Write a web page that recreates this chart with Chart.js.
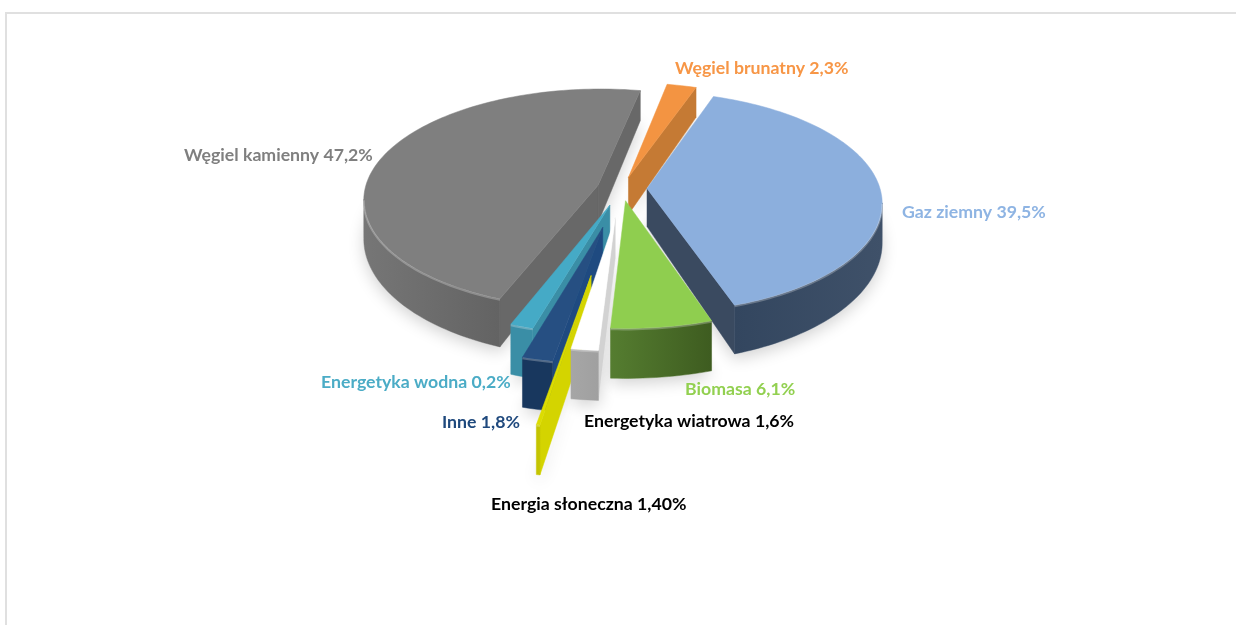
<!DOCTYPE html>
<html>
<head>
<meta charset="utf-8">
<title>Struktura produkcji energii</title>
<script src="https://cdn.jsdelivr.net/npm/chart.js@4/dist/chart.umd.min.js"></script>
<style>
    html, body { margin: 0; padding: 0; background: #fff; overflow: hidden; }
    #wrap { position: relative; width: 1236px; height: 625px; }
    #frame { position: absolute; left: 5px; top: 12px; right: 0; bottom: 0; border-top: 2px solid #e0e0e0; border-left: 2px solid #e0e0e0; }
    canvas { position: absolute; left: 0; top: 0; }
</style>
</head>
<body>
<div id="wrap">
    <div id="frame"></div>
    <canvas id="energyChart" width="1236" height="625"></canvas>
</div>
<script>
// order is clockwise from the gas slice
const categories = ['Gaz ziemny', 'Biomasa', 'Energetyka wiatrowa', 'Energia słoneczna', 'Inne', 'Energetyka wodna', 'Węgiel kamienny', 'Węgiel brunatny'];
const printedValues = ['39,5%', '6,1%', '1,6%', '1,40%', '1,8%', '0,2%', '47,2%', '2,3%'];
// wedge sizes as drawn: in the picture the solar wedge is the thin one and the hydro one is wide, the printed labels say the opposite
const sliceValues = [39.5, 6.1, 1.6, 0.2, 1.8, 1.4, 47.2, 2.3];

const sliceOffsets = [25, 26, 61, 172, 82, 37, 25, 25];
const topColors = ['#8cafdd', '#8fce4f', '#ffffff', '#dcdc00', '#264f82', '#45aac6', '#7f7f7f', '#f39442'];
const sideColors = ['#3a4a60', '#4a6f2a', '#d2d2d2', '#d4d400', '#1f4a80', '#3a8ea6', '#686868', '#c57a34'];
const rimLeft = ['#33465f', '#557d30', '#a6a6a6', '#c4c400', '#18375e', '#3a8ea6', '#767676', '#c57a34'];
const rimRight = ['#3f5169', '#3e5c20', '#a0a0a0', '#c4c400', '#18375e', '#3a8ea6', '#636363', '#c57a34'];
const labelColors = ['#8eb4e3', '#92d050', '#000000', '#000000', '#1f497d', '#4bacc6', '#7f7f7f', '#f79646'];
const labelSpots = [[902, 212], [685, 389], [584, 421], [491, 504], [442, 422], [321, 382], [184, 155], [675, 68]];
// far slices first, the wind slice sits on top of the solar one
const drawOrder = [6, 7, 0, 5, 4, 3, 1, 2];

const tilt = 0.467;
const persp = 1900;
const depth = 38;

function project(cx, cy, px, py) {
    const g = 1 / (1 - py / persp);
    return { x: cx + px * g, y: cy + py * tilt * g, drop: Math.min(depth * g * g, 50) };
}

function fillPoly(ctx, pts, color) {
    ctx.fillStyle = color;
    ctx.strokeStyle = color;
    ctx.lineWidth = 0.5;
    ctx.beginPath();
    pts.forEach(function(p, i) {
        if (i === 0) ctx.moveTo(p.x, p.y); else ctx.lineTo(p.x, p.y);
    });
    ctx.closePath();
    ctx.fill();
    ctx.stroke();
}

function signedArea(pts) {
    let a = 0;
    pts.forEach(function(p, i) {
        const q = pts[(i + 1) % pts.length];
        a += p.x * q.y - q.x * p.y;
    });
    return a;
}

function wall(a, b) {
    return [a, b, { x: b.x, y: b.y + b.drop }, { x: a.x, y: a.y + a.drop }];
}

// turns an arc element from the pie controller into projected outline points
function sliceShape(arc, offset) {
    const { x, y, startAngle, endAngle, outerRadius } = arc.getProps(['x', 'y', 'startAngle', 'endAngle', 'outerRadius'], true);
    const mid = (startAngle + endAngle) / 2;
    const ox = Math.cos(mid) * offset;
    const oy = Math.sin(mid) * offset;
    const rim = [];
    const steps = Math.max(2, Math.ceil((endAngle - startAngle) * 40));
    for (let i = 0; i <= steps; i++) {
        const t = startAngle + (endAngle - startAngle) * i / steps;
        rim.push(project(x, y, ox + Math.cos(t) * outerRadius, oy + Math.sin(t) * outerRadius));
    }
    return { apex: project(x, y, ox, oy), rim: rim };
}

// part of the rim that faces the viewer, as one run of points
function frontRim(rim) {
    const run = [];
    for (let k = 0; k < rim.length - 1; k++) {
        if (signedArea(wall(rim[k], rim[k + 1])) < 0) {
            if (run.length === 0) run.push(rim[k]);
            run.push(rim[k + 1]);
        }
    }
    return run;
}

const pie3d = {
    id: 'pie3d',
    beforeDatasetDraw(chart) {
        const ctx = chart.ctx;
        const arcs = chart.getDatasetMeta(0).data;
        const shapes = arcs.map(function(arc, i) { return sliceShape(arc, sliceOffsets[i]); });

        // soft shadow under everything
        ctx.save();
        ctx.shadowColor = 'rgba(0,0,0,0.18)';
        ctx.shadowBlur = 16;
        ctx.shadowOffsetY = 5;
        shapes.forEach(function(s) {
            const low = s.rim.map(function(p) { return { x: p.x, y: p.y + p.drop }; });
            fillPoly(ctx, [{ x: s.apex.x, y: s.apex.y + s.apex.drop }].concat(low), '#ffffff');
        });
        ctx.restore();

        drawOrder.forEach(function(i) {
            const s = shapes[i];
            const first = s.rim[0];
            const last = s.rim[s.rim.length - 1];
            // radial faces, only the ones turned to the viewer
            [wall(s.apex, first), wall(last, s.apex)].forEach(function(face) {
                if (signedArea(face) < 0) fillPoly(ctx, face, sideColors[i]);
            });
            // outer curved face
            const run = frontRim(s.rim);
            if (run.length > 1) {
                const xs = run.map(function(p) { return p.x; });
                const grad = ctx.createLinearGradient(Math.min.apply(null, xs), 0, Math.max.apply(null, xs), 0);
                grad.addColorStop(0, rimLeft[i]);
                grad.addColorStop(1, rimRight[i]);
                const lower = run.map(function(p) { return { x: p.x, y: p.y + p.drop }; }).reverse();
                fillPoly(ctx, run.concat(lower), grad);
            }
            fillPoly(ctx, [s.apex].concat(s.rim), topColors[i]);
            // bevel line on the front rim
            if (run.length > 1) {
                ctx.strokeStyle = 'rgba(255,255,255,0.25)';
                ctx.lineWidth = 2;
                ctx.beginPath();
                run.forEach(function(p, k) {
                    if (k === 0) ctx.moveTo(p.x, p.y + 1); else ctx.lineTo(p.x, p.y + 1);
                });
                ctx.stroke();
            }
        });
        return false;
    },
    afterDraw(chart) {
        const ctx = chart.ctx;
        ctx.save();
        ctx.font = 'bold 17.7px Lato';
        ctx.textAlign = 'left';
        ctx.textBaseline = 'middle';
        categories.forEach(function(name, i) {
            ctx.fillStyle = labelColors[i];
            ctx.fillText(name + ' ' + printedValues[i], labelSpots[i][0], labelSpots[i][1]);
        });
        ctx.restore();
    }
};

document.addEventListener('DOMContentLoaded', function() {
    const ctx = document.getElementById('energyChart').getContext('2d');
    new Chart(ctx, {
        type: 'pie',
        data: {
            labels: categories,
            datasets: [{
                data: sliceValues,
                backgroundColor: topColors,
                borderWidth: 0,
                offset: sliceOffsets
            }]
        },
        options: {
            responsive: false,
            animation: false,
            events: [],
            radius: 233,
            rotation: 19.3,
            layout: { padding: { left: 8, bottom: 248 } },
            plugins: {
                legend: { display: false },
                tooltip: { enabled: false }
            }
        },
        plugins: [pie3d]
    });
});
</script>
</body>
</html>
